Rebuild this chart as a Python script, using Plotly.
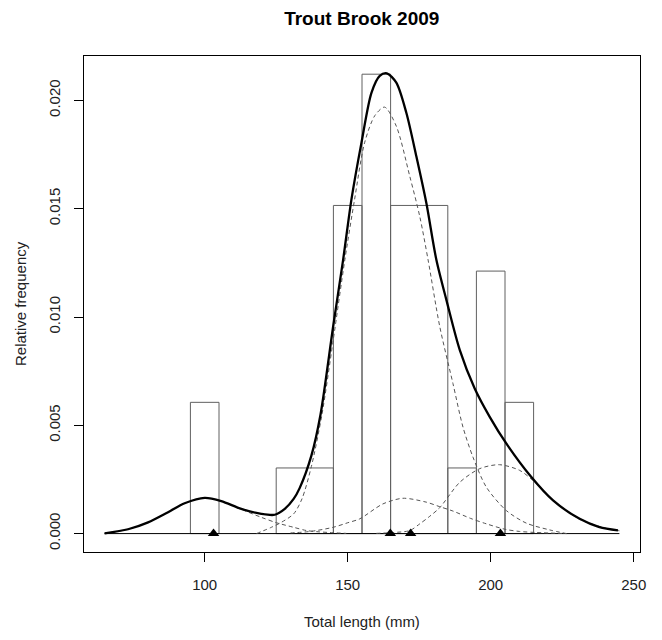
import plotly.graph_objects as go

# ---------------- data ----------------
bin_centers = [100, 135, 150, 160, 175, 190, 200, 210]
bin_widths = [10, 20, 10, 10, 20, 10, 10, 10]
bin_heights = [0.00606, 0.00303, 0.01515, 0.02121, 0.01515, 0.00303, 0.01212, 0.00606]

mixture_x = [65, 73.2, 80.2, 87.2, 93.0, 100, 105.8, 112.8, 119.8, 124.5, 128.0, 131.1,
             133.2, 137.3, 140.5, 144.9, 148.4, 151.3, 154.8, 158.3, 161.2, 163.7, 167.0,
             170.5, 174.0, 177.5, 181.0, 184.5, 189.2, 194.4, 199.7, 205.5, 214.2, 221.8,
             231.1, 238.0, 244.5]
mixture_y = [0.00001, 0.0002, 0.00052, 0.00099, 0.0014, 0.00165, 0.0015, 0.00114, 0.00091,
             0.00087, 0.00114, 0.0016, 0.0021, 0.0036, 0.0055, 0.00955, 0.01264, 0.01542,
             0.01804, 0.02035, 0.02113, 0.02125, 0.02082, 0.01943, 0.01742, 0.01526, 0.01264,
             0.01079, 0.00847, 0.0067, 0.00538, 0.00415, 0.00261, 0.00153, 0.00068, 0.0003,
             0.00015]

comp1_x = [65, 73.2, 80.2, 87.2, 93.0, 100, 105.8, 112.8, 119.8, 125.1, 131.1, 135.6, 140, 144.9, 149.5]
comp1_y = [0.00001, 0.0002, 0.00052, 0.00099, 0.0014, 0.00165, 0.0015, 0.00112, 0.00075,
           0.0005, 0.00029, 0.00014, 0.00008, 0.00004, 0.00001]

comp2_x = [118.1, 123.3, 126.8, 131.1, 134.0, 137.3, 141.0, 144.9, 149.0, 152.4, 155.9, 159.5,
           162.9, 167.0, 171.7, 175.2, 178.1, 182.2, 186.8, 190.3, 193.8, 198.5, 205.5, 212.5,
           220.6, 226.5]
comp2_y = [0.0, 0.00029, 0.00052, 0.00091, 0.0016, 0.0031, 0.0055, 0.0089, 0.01264, 0.01542,
           0.01804, 0.0193, 0.01969, 0.01881, 0.0165, 0.01464, 0.01264, 0.00955, 0.00693,
           0.00492, 0.00353, 0.00214, 0.00106, 0.00048, 0.00017, 0.0]

comp3_x = [130, 137, 144.9, 150, 154.2, 162.3, 169.3, 177.5, 182.0, 186.8, 193.0, 198.5, 205, 210, 216, 226.5]
comp3_y = [0.00003, 0.0001, 0.00029, 0.0005, 0.00068, 0.00137, 0.00163, 0.00145, 0.00125,
           0.00104, 0.0007, 0.00045, 0.0002, 0.0001, 0.00005, 0.0]

comp4_x = [160, 166, 171.7, 175.2, 178.7, 182.2, 189.2, 196.2, 203.1, 210.1, 214.8, 221.8, 231.1, 240.5, 245]
comp4_y = [0.00001, 0.00005, 0.00014, 0.00045, 0.0008, 0.0012, 0.00237, 0.003, 0.00318,
           0.00292, 0.00245, 0.00153, 0.00066, 0.00024, 0.00013]

component_means = [103.1, 164.9, 172.0, 203.4]
baseline_x = [65, 245]

x_ticks = [100, 150, 200, 250]
y_ticks = [0.0, 0.005, 0.010, 0.015, 0.020]
y_tick_labels = ["0.000", "0.005", "0.010", "0.015", "0.020"]

title_text = "Trout Brook 2009"
x_title = "Total length (mm)"
y_title = "Relative frequency"

# ---------------- figure ----------------
FONT = "Liberation Sans, Arial, sans-serif"
fig = go.Figure()

fig.add_trace(go.Bar(
    x=bin_centers, y=bin_heights, width=bin_widths,
    marker=dict(color="rgba(0,0,0,0)", line=dict(color="#606060", width=1)),
    showlegend=False, hoverinfo="skip",
))

fig.add_trace(go.Scatter(x=baseline_x, y=[0, 0], mode="lines",
                         line=dict(color="black", width=1), showlegend=False))

dash_style = dict(color="#555555", width=1, dash="4px,3px", shape="spline", smoothing=0.8)
for cx, cy in [(comp1_x, comp1_y), (comp2_x, comp2_y), (comp3_x, comp3_y), (comp4_x, comp4_y)]:
    fig.add_trace(go.Scatter(x=cx, y=cy, mode="lines", line=dash_style, showlegend=False))

fig.add_trace(go.Scatter(x=mixture_x, y=mixture_y, mode="lines",
                         line=dict(color="black", width=2.3, shape="spline", smoothing=0.8),
                         showlegend=False))

fig.add_trace(go.Scatter(x=component_means, y=[0] * len(component_means), mode="markers",
                         marker=dict(symbol="triangle-up", size=10, color="black"),
                         showlegend=False))

fig.update_layout(
    width=662, height=640,
    margin=dict(l=84, r=22, t=56, b=88),
    paper_bgcolor="white", plot_bgcolor="white",
    font=dict(family=FONT, size=15, color="#222222"),
    title=dict(text="<b>" + title_text + "</b>", x=0.5465, xanchor="center",
               y=1 - 18 / 640, yanchor="middle", yref="container",
               font=dict(family=FONT, size=19, color="black")),
    barmode="overlay",
    xaxis=dict(range=[57.8, 252.2], tickvals=x_ticks, ticks="outside", ticklen=9,
               tickcolor="black", showline=True, linecolor="black", linewidth=1,
               mirror=True, showgrid=False, zeroline=False, ticklabelstandoff=10,
               tickfont=dict(size=15, color="#222222")),
    yaxis=dict(range=[-0.00085, 0.02205], tickvals=y_ticks, ticktext=y_tick_labels,
               ticks="outside", ticklen=9, tickcolor="black", tickangle=-90,
               showline=True, linecolor="black", linewidth=1, mirror=True,
               showgrid=False, zeroline=False, ticklabelstandoff=8,
               tickfont=dict(size=15, color="#222222")),
    annotations=[
        dict(text=x_title, xref="paper", yref="paper", x=0.5, y=(552 - 621) / 496,
             xanchor="center", yanchor="middle", showarrow=False,
             font=dict(family=FONT, size=15, color="#222222")),
        dict(text=y_title, xref="paper", yref="paper", x=(20 - 84) / 556, y=0.5,
             xanchor="center", yanchor="middle", textangle=-90, showarrow=False,
             font=dict(family=FONT, size=15, color="#222222")),
    ],
)

fig.write_html("out.html")
